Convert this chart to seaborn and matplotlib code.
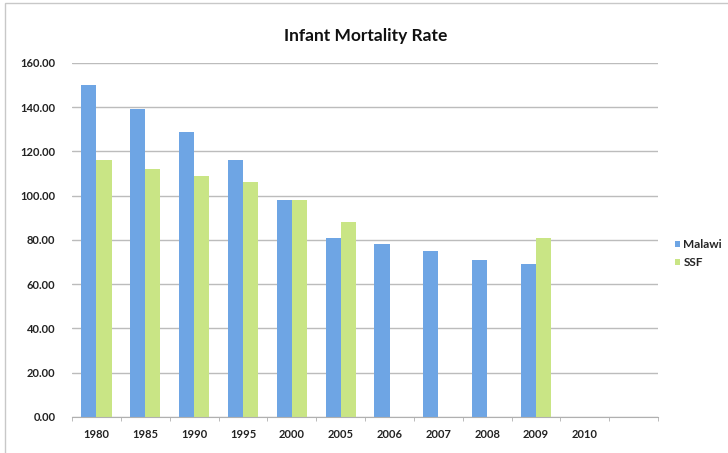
import pandas as pd
import numpy as np
import matplotlib.pyplot as plt
import seaborn as sb
from matplotlib.patches import Rectangle

years = ["1980", "1985", "1990", "1995", "2000", "2005", "2006", "2007", "2008", "2009", "2010", ""]
malawi = [150, 139, 129, 116, 98, 81, 78, 75, 71, 69, np.nan, np.nan]
ssf = [116, 112, 109, 106, 98, 88, np.nan, np.nan, np.nan, 81, np.nan, np.nan]

df = pd.DataFrame({
    "Year": years * 2,
    "Rate": malawi + ssf,
    "Series": ["Malawi"] * len(years) + ["SSF"] * len(years),
})

sb.set_style("white")
plt.rcParams["font.family"] = ["Lato", "DejaVu Sans"]

fig = plt.figure(figsize=(7.28, 4.53), dpi=100)
ax = fig.add_axes([0.099, 0.0795, 0.805, 0.7815])

sb.barplot(data=df, x="Year", y="Rate", hue="Series", order=years,
           hue_order=["Malawi", "SSF"], palette=["#6ea5e4", "#c9e585"],
           width=0.62, gap=0, saturation=1, errorbar=None, linewidth=0, ax=ax)

ax.set_ylim(0, 160)
ax.set_xlim(-0.5, len(years) - 0.5)
ax.set_yticks(np.arange(0, 161, 20))
ax.set_yticklabels([f"{v:.2f}" for v in np.arange(0, 161, 20)])
ax.yaxis.grid(True, color="#bcbcbc", linewidth=1)
ax.set_axisbelow(True)
for s in ["top", "right", "left"]:
    ax.spines[s].set_visible(False)
ax.spines["bottom"].set_color("#b0b0b0")
ax.set_xticks(np.arange(len(years) + 1) - 0.5, minor=True)
ax.tick_params(axis="x", which="minor", length=3, color="#b0b0b0", bottom=True)
ax.tick_params(axis="x", which="major", length=0, pad=9, labelsize=8, labelcolor="#222222")
ax.tick_params(axis="y", length=0, pad=12, labelsize=8, labelcolor="#222222")
for t in ax.get_xticklabels() + ax.get_yticklabels():
    t.set_fontweight("bold")
ax.set_xlabel("")
ax.set_ylabel("")

fig.text(0.502, 0.92, "Infant Mortality Rate", ha="center", va="center",
         fontsize=12.5, fontweight="bold", color="#111111")

ax.legend(loc="upper left", bbox_to_anchor=(0.912, 0.495), bbox_transform=fig.transFigure,
          frameon=False, handlelength=0.45, handleheight=0.45, handletextpad=0.3,
          labelspacing=0.55, prop={"size": 8.5, "weight": "bold"})

fig.patches.append(Rectangle((0.007, -0.01), 1.1, 1.003, transform=fig.transFigure,
                             fill=False, edgecolor="#c8c8c8", linewidth=1))

plt.savefig("out.png", dpi=100)
